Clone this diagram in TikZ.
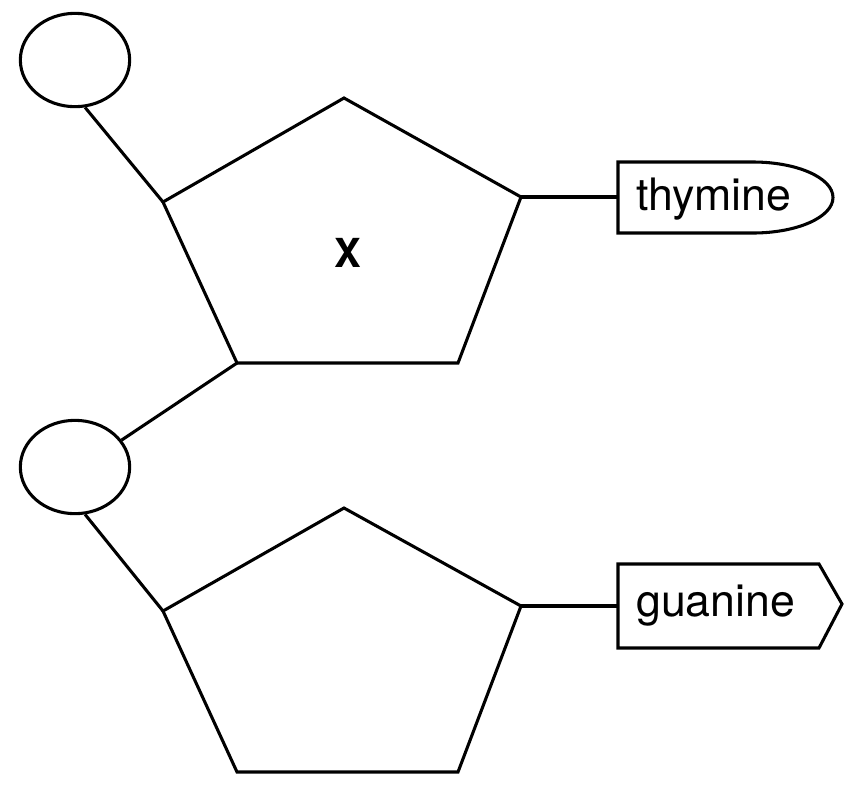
\documentclass[tikz,border=0pt]{standalone}
\usepackage{fontspec}
\setmainfont{TeX Gyre Heros}
\usetikzlibrary{shapes.geometric}
\begin{document}
\begin{tikzpicture}[x=0.75pt,y=-0.75pt,
  ln/.style={line width=2.3pt, line join=miter},
  phos/.style={draw, line width=2.3pt, ellipse, minimum width=82pt, minimum height=70pt, inner sep=0pt},
  lbl/.style={font=\fontsize{33.5}{36}\selectfont, anchor=west, inner sep=0pt}]
\useasboundingbox (0,0) rectangle (856,793);
% phosphates
\node[phos] (p1) at (75,60) {};
\node[phos] (p2) at (75,467) {};
% sugar 1
\coordinate (a1) at (344,98);
\coordinate (b1) at (521,197);
\coordinate (c1) at (458,363);
\coordinate (d1) at (237,363);
\coordinate (e1) at (163,202);
\draw[ln] (a1) -- (b1) -- (c1) -- (d1) -- (e1) -- cycle;
% sugar 2
\coordinate (a2) at (344,508);
\coordinate (b2) at (521,606);
\coordinate (c2) at (458,772);
\coordinate (d2) at (237,772);
\coordinate (e2) at (163,611);
\draw[ln] (a2) -- (b2) -- (c2) -- (d2) -- (e2) -- cycle;
\node[font=\fontsize{30}{32}\bfseries\selectfont, inner sep=0pt] (x) at (348,253) {X};
% connectors
\draw[ln] (p1.-78) -- (e1);
\draw[ln] (d1) -- (p2.30);
\draw[ln] (p2.-78) -- (e2);
% thymine
\coordinate (t1) at (618,162);
\coordinate (t2) at (753,162);
\coordinate (t3) at (753,233);
\coordinate (t4) at (618,233);
\draw[ln] (t2) -- (t1) -- (t4) -- (t3) arc[start angle=90, end angle=-90, x radius=80, y radius=35.5];
\node[lbl] (thy) at (636,199) {thymine};
\coordinate (tl) at (618,197);
\draw[ln] (b1) -- (tl);
% guanine
\coordinate (g1) at (618,564);
\coordinate (g2) at (819,564);
\coordinate (g3) at (842,604);
\coordinate (g4) at (819,648);
\coordinate (g5) at (618,648);
\draw[ln] (g1) -- (g2) -- (g3) -- (g4) -- (g5) -- cycle;
\node[lbl] (gua) at (636,606) {guanine};
\coordinate (gl) at (618,606);
\draw[ln] (b2) -- (gl);
\end{tikzpicture}
\end{document}
